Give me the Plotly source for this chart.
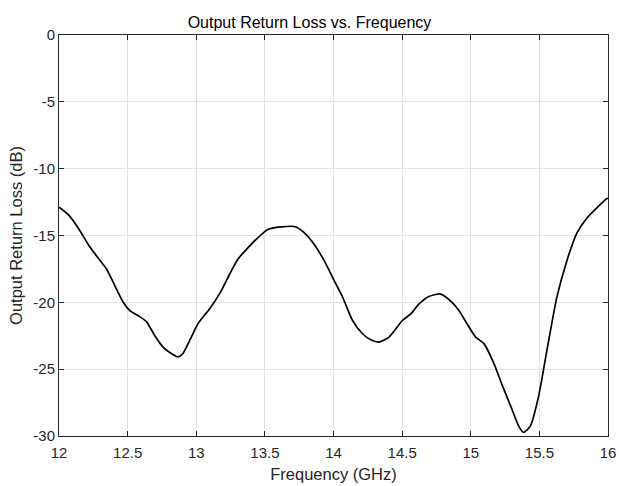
import plotly.graph_objects as go

freq_ghz = [12.0, 12.068, 12.14, 12.213, 12.274, 12.347, 12.407, 12.468, 12.516, 12.576,
            12.637, 12.697, 12.758, 12.819, 12.867, 12.903, 12.964, 13.012, 13.06, 13.097,
            13.182, 13.243, 13.303, 13.376, 13.448, 13.521, 13.618, 13.715, 13.788, 13.86,
            13.933, 14.006, 14.066, 14.139, 14.211, 14.272, 14.333, 14.405, 14.502, 14.563,
            14.623, 14.695, 14.78, 14.864, 14.914, 14.961, 15.036, 15.096, 15.169, 15.229,
            15.302, 15.35, 15.385, 15.433, 15.494, 15.555, 15.627, 15.7, 15.774, 15.847,
            15.93, 15.99, 16.0]
return_loss_db = [-12.88, -13.44, -14.44, -15.67, -16.54, -17.52, -18.76, -20.0, -20.62, -20.99,
                  -21.44, -22.48, -23.35, -23.83, -24.08, -23.83, -22.6, -21.6, -20.95, -20.49,
                  -19.14, -17.9, -16.78, -15.92, -15.18, -14.55, -14.36, -14.33, -14.8, -15.67,
                  -16.9, -18.39, -19.6, -21.36, -22.35, -22.8, -22.97, -22.6, -21.36, -20.87,
                  -20.12, -19.56, -19.38, -20.0, -20.62, -21.4, -22.6, -23.09, -24.58, -26.19,
                  -28.05, -29.28, -29.73, -29.28, -27.05, -23.59, -19.63, -16.9, -14.8, -13.69,
                  -12.82, -12.25, -12.2]

x_ticks = [12, 12.5, 13, 13.5, 14, 14.5, 15, 15.5, 16]
x_tick_labels = ["12", "12.5", "13", "13.5", "14", "14.5", "15", "15.5", "16"]
y_ticks = [-30, -25, -20, -15, -10, -5, 0]
y_tick_labels = ["-30", "-25", "-20", "-15", "-10", "-5", "0"]

font_family = "Liberation Sans, Arial, Helvetica, sans-serif"
axis_color = "#262626"
grid_color = "#e3e3e3"

fig = go.Figure()
fig.add_trace(go.Scatter(
    x=freq_ghz, y=return_loss_db, mode="lines",
    line=dict(color="black", width=1.7, shape="spline", smoothing=0.6),
    showlegend=False,
))

axis_common = dict(
    showline=True, linecolor=axis_color, linewidth=1, mirror="ticks",
    ticks="inside", ticklen=5, tickcolor=axis_color,
    showgrid=True, gridcolor=grid_color, gridwidth=1,
    zeroline=False, automargin=False,
    tickfont=dict(family=font_family, size=15, color=axis_color),
)

fig.update_layout(
    width=619, height=486,
    margin=dict(l=59, r=11, t=35, b=50),
    paper_bgcolor="white", plot_bgcolor="white",
    title=dict(text="Output Return Loss vs. Frequency", x=0.5, xanchor="center",
               y=1 - 22 / 486, yanchor="middle",
               font=dict(family=font_family, size=16, color="black")),
    xaxis=dict(range=[12, 16], tickvals=x_ticks, ticktext=x_tick_labels,
               ticklabelstandoff=3,
               title=dict(text="Frequency (GHz)", standoff=8,
                          font=dict(family=font_family, size=16.5, color=axis_color)),
               **axis_common),
    yaxis=dict(range=[-30, 0], tickvals=y_ticks, ticktext=y_tick_labels,
               title=dict(text="Output Return Loss (dB)", standoff=6,
                          font=dict(family=font_family, size=16.5, color=axis_color)),
               **axis_common),
)

fig.write_html("out.html")
